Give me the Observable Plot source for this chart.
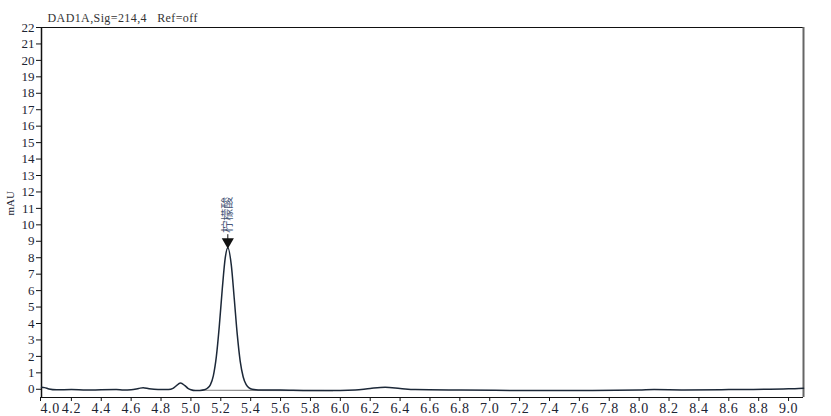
<!DOCTYPE html>
<html>
<head>
<meta charset="utf-8">
<script src="https://cdn.jsdelivr.net/npm/d3@7"></script>
<script src="https://cdn.jsdelivr.net/npm/@observablehq/plot@0.6"></script>
<style>
  html, body { margin: 0; padding: 0; background: #fff; }
  svg { display: block; }
  .title-text text { letter-spacing: 0.4px; }
  .xlab text { letter-spacing: 0.6px; }
</style>
</head>
<body>
<div id="chart"></div>
<script>
// Chromatogram trace (retention time in min, signal in mAU)
const times = [
  4.00, 4.02, 4.05, 4.10, 4.20, 4.30, 4.40, 4.50, 4.55, 4.60, 4.65, 4.68, 4.72, 4.78,
  4.85, 4.88, 4.90, 4.93, 4.96, 4.98, 5.00, 5.03, 5.06, 5.09, 5.11, 5.13, 5.15, 5.17,
  5.19, 5.21, 5.23, 5.247, 5.27, 5.29, 5.31, 5.33, 5.35, 5.37, 5.39, 5.41, 5.45, 5.60,
  5.80, 6.00, 6.10, 6.20, 6.30, 6.40, 6.50, 6.80, 7.20, 7.60, 8.00, 8.10, 8.30, 8.60,
  9.00, 9.10
];
const signal = [
  0.12, 0.10, 0.02, -0.03, -0.02, -0.05, -0.03, -0.02, -0.05, -0.03, 0.05, 0.10, 0.03, -0.02,
  -0.02, 0.05, 0.20, 0.38, 0.22, 0.06, -0.03, -0.08, -0.07, -0.03, 0.06, 0.27, 0.82, 1.97,
  3.84, 6.11, 8.00, 8.60, 7.58, 5.52, 3.35, 1.70, 0.75, 0.28, 0.08, 0.00, -0.04, -0.05,
  -0.08, -0.08, -0.05, 0.05, 0.12, 0.05, -0.02, -0.05, -0.07, -0.08, -0.05, -0.02, -0.04, -0.02,
  0.03, 0.07
];
// Integration baseline under the main peak
const baseTimes = [5.08, 5.95];
const baseValues = [-0.06, -0.08];
// Peak annotation
const peakNames = ["柠檬酸"];
const peakTimes = [5.247];
const peakHeights = [8.6];
// Axis ticks
const xTicks = [4.0, 4.2, 4.4, 4.6, 4.8, 5.0, 5.2, 5.4, 5.6, 5.8, 6.0, 6.2, 6.4, 6.6, 6.8, 7.0,
  7.2, 7.4, 7.6, 7.8, 8.0, 8.2, 8.4, 8.6, 8.8, 9.0];
const yTicks = d3.range(0, 23);
const title = "DAD1A,Sig=214,4   Ref=off";
const yLabel = "mAU";

const trace = times.map((t, i) => ({t, v: signal[i]}));
const base = baseTimes.map((t, i) => ({t, v: baseValues[i]}));
const peaks = peakNames.map((n, i) => ({name: n, t: peakTimes[i], h: peakHeights[i]}));

const font = "'Liberation Serif', 'DejaVu Serif', serif";
const ink = "#1d2433";

const chart = Plot.plot({
  width: 831,
  height: 416,
  marginLeft: 41,
  marginRight: 28,
  marginTop: 27,
  marginBottom: 19,
  style: {fontFamily: font, fontSize: "13px", color: ink, background: "#fff"},
  x: {domain: [4.0, 9.1]},
  y: {domain: [-0.5, 22]},
  marks: [
    // frame
    Plot.ruleY([22], {stroke: "#111", strokeWidth: 1.2}),
    Plot.ruleY([-0.5], {stroke: "#111", strokeWidth: 1.2}),
    Plot.ruleX([4.0], {stroke: "#111", strokeWidth: 1.5}),
    Plot.ruleX([9.1], {stroke: "#666", strokeWidth: 2}),
    // axes
    Plot.axisY({ticks: yTicks, tickSize: 5, tickPadding: 2, tickFormat: d3.format("d"), label: null, stroke: "#111"}),
    Plot.axisX(xTicks.slice(1), {tickSize: 4, tickPadding: 2, tickFormat: d3.format(".1f"), label: null, stroke: "#111", textAnchor: "middle", fontSize: 14, className: "xlab"}),
    Plot.axisX(xTicks.slice(0, 1), {tickSize: 4, tickPadding: 2, tickFormat: d3.format(".1f"), label: null, stroke: "#111", textAnchor: "start", dx: -1, fontSize: 14, className: "xlab"}),
    // y label
    Plot.text([yLabel], {frameAnchor: "left", dx: -31, dy: 3, rotate: -90, fontSize: 11, fill: ink}),
    // title
    Plot.text([title], {frameAnchor: "top-left", dx: 6, dy: -14, fontSize: 12, textAnchor: "start", fill: "#333", className: "title-text"}),
    // integration baseline
    Plot.line(base, {x: "t", y: "v", stroke: "#888", strokeWidth: 1.2}),
    // trace
    Plot.line(trace, {x: "t", y: "v", stroke: "#1c2838", strokeWidth: 1.5, curve: "monotone-x"}),
    // annotation
    Plot.ruleX(peaks, {x: "t", y1: d => d.h, y2: d => d.h + 0.8, stroke: "#111", strokeWidth: 1}),
    Plot.dot(peaks, {x: "t", y: "h", symbol: "triangle", rotate: 180, r: 4.5, fill: "#111", stroke: "none", dy: -6}),
    Plot.text(peaks, {x: "t", y: "h", text: "name", rotate: -90, textAnchor: "start", dy: -15, dx: 0, fontSize: 12, fill: "#4a5878", fontFamily: "'Noto Sans CJK SC', sans-serif"})
  ]
});
document.getElementById("chart").appendChild(chart);
</script>
</body>
</html>
